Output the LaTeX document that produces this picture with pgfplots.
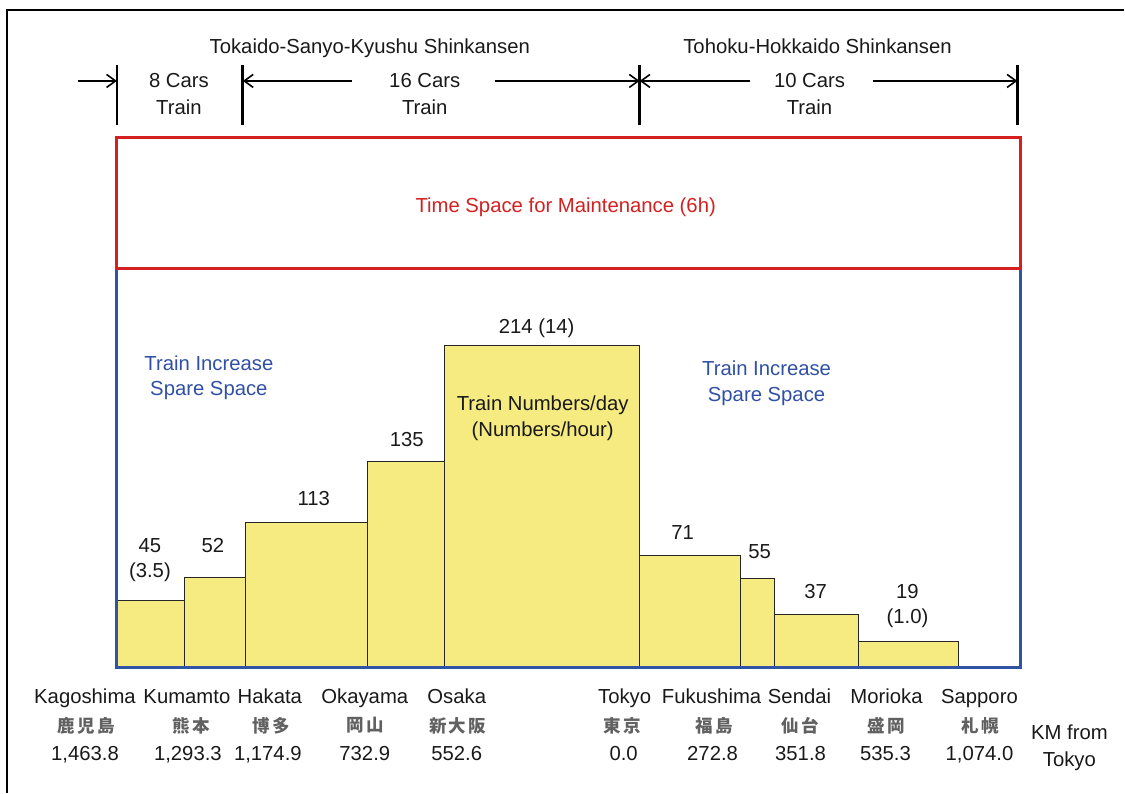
\documentclass[border=0pt]{standalone}
\usepackage{pgfplots}
\pgfplotsset{compat=1.18}
\usepackage{fontspec}
\setmainfont{Liberation Sans}
\newfontfamily\cjk[LetterSpace=14]{Noto Sans CJK JP}
\usetikzlibrary{arrows.meta}
\definecolor{baryel}{RGB}{245,235,128}
\definecolor{bluebox}{RGB}{47,84,165}
\definecolor{redbox}{RGB}{212,32,32}
\definecolor{bluetext}{RGB}{48,80,165}
\definecolor{txt}{RGB}{25,25,25}
\tikzset{
  lbl/.style={font=\fontsize{20.3}{24}\selectfont,text=txt,anchor=base,inner sep=0pt},
  cj/.style={font=\fontsize{17.5}{20}\selectfont\cjk\bfseries,text=black!62,anchor=center,inner sep=0pt},
  arr/.style={line width=1.6pt,-{Straight Barb[length=9pt,width=13pt,line width=1.6pt]}},
  vb/.style={line width=2.8pt}}
\begin{document}
\begin{tikzpicture}
\begin{axis}[width=1125pt,height=793pt,scale only axis,
  xmin=0,xmax=1125,ymin=-125,ymax=668,hide axis,clip=false]
\path (rel axis cs:0,0) rectangle (rel axis cs:1,1);
% frame
\draw[line width=1.3pt,black] (axis cs:7,-125) -- (axis cs:7,658) -- (axis cs:1125,658);
% bars (x = left edge in px, y = drawn height)
\addplot[ybar interval, fill=baryel, draw=black!85, line width=0.9pt] coordinates {
 (117,67) (185,90) (246,145) (368,206) (445,322) (640,112) (741,89) (775,53) (859,26) (959,26)};
% boxes
\draw[bluebox, line width=3pt] (axis cs:117,0) rectangle (axis cs:1021,399);
\draw[redbox, line width=3pt] (axis cs:117,399) rectangle (axis cs:1021,530);
% top arrows
\draw[vb] (axis cs:117,543) -- (axis cs:117,603);
\draw[vb] (axis cs:243,543) -- (axis cs:243,603);
\draw[vb] (axis cs:640,543) -- (axis cs:640,603);
\draw[vb] (axis cs:1018,543) -- (axis cs:1018,603);
\draw[arr] (axis cs:78,587) -- (axis cs:117,587);
\draw[arr] (axis cs:352,587) -- (axis cs:243,587);
\draw[arr] (axis cs:495,587) -- (axis cs:640,587);
\draw[arr] (axis cs:750,587) -- (axis cs:640,587);
\draw[arr] (axis cs:873,587) -- (axis cs:1018,587);
\node[lbl] at (axis cs:370,614.5) {Tokaido-Sanyo-Kyushu Shinkansen};
\node[lbl] at (axis cs:818,614.5) {Tohoku-Hokkaido Shinkansen};
\node[lbl] at (axis cs:179,580) {8 Cars};
\node[lbl] at (axis cs:179,553) {Train};
\node[lbl] at (axis cs:425,580) {16 Cars};
\node[lbl] at (axis cs:425,553) {Train};
\node[lbl] at (axis cs:810,580) {10 Cars};
\node[lbl] at (axis cs:810,553) {Train};
% inside texts
\node[lbl,text=redbox] at (axis cs:566,455) {Time Space for Maintenance (6h)};
\node[lbl,text=bluetext] at (axis cs:209,297) {Train Increase};
\node[lbl,text=bluetext] at (axis cs:209,272) {Spare Space};
\node[lbl,text=bluetext] at (axis cs:767,292) {Train Increase};
\node[lbl,text=bluetext] at (axis cs:767,266) {Spare Space};
\node[lbl] at (axis cs:543,257) {Train Numbers/day};
\node[lbl] at (axis cs:543,231) {(Numbers/hour)};
% value labels
\node[lbl] at (axis cs:537,334) {214 (14)};
\node[lbl] at (axis cs:150,115) {45};
\node[lbl] at (axis cs:150,90) {(3.5)};
\node[lbl] at (axis cs:213,115) {52};
\node[lbl] at (axis cs:314,162) {113};
\node[lbl] at (axis cs:407,221) {135};
\node[lbl] at (axis cs:683,128) {71};
\node[lbl] at (axis cs:760,109) {55};
\node[lbl] at (axis cs:816,69) {37};
\node[lbl] at (axis cs:908,69) {19};
\node[lbl] at (axis cs:908,44) {(1.0)};
% station labels
\node[lbl] at (axis cs:85,-36) {Kagoshima};
\node[lbl] at (axis cs:187,-36) {Kumamto};
\node[lbl] at (axis cs:270,-36) {Hakata};
\node[lbl] at (axis cs:365,-36) {Okayama};
\node[lbl] at (axis cs:457,-36) {Osaka};
\node[lbl] at (axis cs:625,-36) {Tokyo};
\node[lbl] at (axis cs:712,-36) {Fukushima};
\node[lbl] at (axis cs:800,-36) {Sendai};
\node[lbl] at (axis cs:887,-36) {Morioka};
\node[lbl] at (axis cs:980,-36) {Sapporo};
\node[cj] at (axis cs:86,-58) {鹿児島};
\node[cj] at (axis cs:191,-58) {熊本};
\node[cj] at (axis cs:271,-58) {博多};
\node[cj] at (axis cs:365,-58) {岡山};
\node[cj] at (axis cs:458,-58) {新大阪};
\node[cj] at (axis cs:623,-58) {東京};
\node[cj] at (axis cs:715,-58) {福島};
\node[cj] at (axis cs:801,-58) {仙台};
\node[cj] at (axis cs:887,-58) {盛岡};
\node[cj] at (axis cs:981,-58) {札幌};
\node[lbl] at (axis cs:85,-93) {1,463.8};
\node[lbl] at (axis cs:188,-93) {1,293.3};
\node[lbl] at (axis cs:268,-93) {1,174.9};
\node[lbl] at (axis cs:365,-93) {732.9};
\node[lbl] at (axis cs:457,-93) {552.6};
\node[lbl] at (axis cs:624,-93) {0.0};
\node[lbl] at (axis cs:713,-93) {272.8};
\node[lbl] at (axis cs:801,-93) {351.8};
\node[lbl] at (axis cs:886,-93) {535.3};
\node[lbl] at (axis cs:980,-93) {1,074.0};
\node[lbl] at (axis cs:1070,-72) {KM from};
\node[lbl] at (axis cs:1070,-99) {Tokyo};
\end{axis}
\end{tikzpicture}
\end{document}
